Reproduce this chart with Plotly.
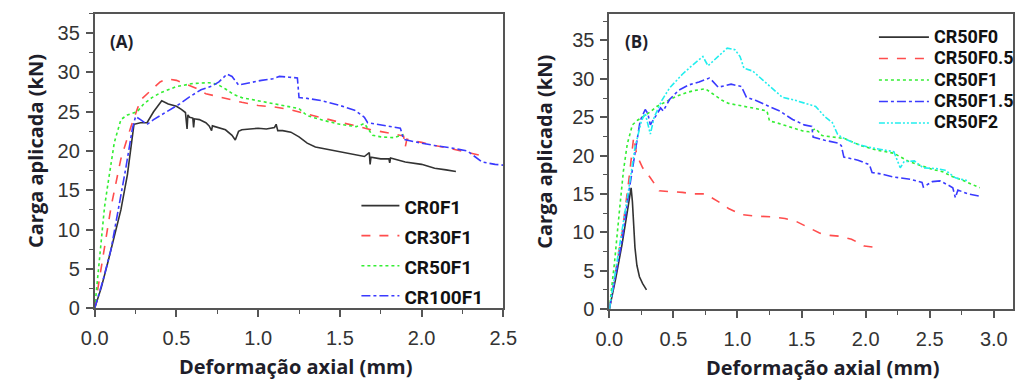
import plotly.graph_objects as go

# ---------------- Panel A data ----------------
a_cr0f1_x = [0, 0.04, 0.08, 0.12, 0.16, 0.20, 0.24, 0.28, 0.32, 0.36, 0.41, 0.45, 0.50, 0.53, 0.555, 0.565, 0.57, 0.58, 0.60,
             0.605, 0.61, 0.64, 0.68, 0.70, 0.715, 0.72, 0.76, 0.80, 0.84, 0.86, 0.88, 0.90, 0.95, 1.00, 1.05, 1.10, 1.11,
             1.12, 1.15, 1.20, 1.25, 1.30, 1.35, 1.45, 1.55, 1.65, 1.68, 1.685, 1.69, 1.75, 1.80, 1.805, 1.81, 1.90, 2.00,
             2.08, 2.15, 2.21]
a_cr0f1_y = [0, 2.6, 5.8, 9.0, 12.5, 17.0, 23.4, 23.6, 23.6, 25.0, 26.4, 26.0, 25.7, 25.3, 24.9, 22.8, 24.6, 24.3, 24.2,
             23.0, 24.1, 24.0, 23.6, 23.2, 22.6, 23.2, 22.9, 22.7, 22.0, 21.4, 22.5, 22.7, 22.8, 22.9, 22.8, 23.0, 23.4,
             22.6, 22.6, 22.4, 21.8, 21.0, 20.5, 20.1, 19.7, 19.3, 19.8, 18.3, 19.2, 19.0, 19.0, 18.5, 19.1, 18.6, 18.3,
             17.8, 17.6, 17.4]

a_cr30f1_x = [0, 0.05, 0.10, 0.16, 0.22, 0.28, 0.34, 0.40, 0.44, 0.50, 0.56, 0.62, 0.68, 0.74, 0.82, 0.90, 1.00, 1.10,
              1.19, 1.30, 1.40, 1.49, 1.60, 1.69, 1.80, 1.89, 1.90, 1.91, 2.00, 2.08, 2.18, 2.28, 2.35]
a_cr30f1_y = [0, 6.5, 12.9, 19.0, 23.0, 26.5, 27.7, 28.8, 29.2, 29.0, 28.5, 28.0, 27.3, 27.0, 26.6, 26.2, 25.8, 25.6,
              25.3, 24.7, 24.1, 23.7, 23.2, 22.7, 22.3, 21.9, 20.5, 21.5, 21.1, 20.7, 20.3, 19.8, 19.5]

a_cr50f1_x = [0, 0.03, 0.06, 0.08, 0.10, 0.12, 0.16, 0.20, 0.26, 0.30, 0.35, 0.40, 0.50, 0.60, 0.70, 0.75, 0.80, 0.85,
              0.90, 1.00, 1.10, 1.20, 1.25, 1.30, 1.40, 1.50, 1.60, 1.65, 1.70, 1.75, 1.83, 1.89]
a_cr50f1_y = [0, 6.0, 12.9, 15.7, 18.5, 21.1, 24.0, 24.6, 25.0, 26.0, 26.8, 27.4, 28.2, 28.6, 28.7, 28.5, 27.9, 27.2,
              26.8, 26.4, 26.0, 25.6, 25.4, 24.5, 23.9, 23.4, 23.1, 23.5, 22.0, 21.8, 21.7, 22.1]

a_cr100f1_x = [0, 0.05, 0.10, 0.14, 0.19, 0.23, 0.25, 0.28, 0.32, 0.36, 0.40, 0.46, 0.52, 0.58, 0.65, 0.72, 0.76, 0.81,
               0.84, 0.88, 0.95, 1.02, 1.09, 1.13, 1.19, 1.24, 1.25, 1.30, 1.39, 1.50, 1.59, 1.65, 1.67, 1.75, 1.87,
               1.89, 1.95, 2.08, 2.18, 2.28, 2.37, 2.45, 2.50]
a_cr100f1_y = [0, 3.5, 7.5, 12.0, 17.8, 22.8, 24.4, 24.0, 23.4, 24.0, 24.5, 25.2, 26.0, 26.9, 27.8, 28.3, 28.8, 29.8,
               29.5, 28.4, 28.7, 29.0, 29.2, 29.5, 29.4, 29.3, 26.8, 26.7, 26.4, 25.8, 25.2, 24.3, 23.6, 23.3, 22.9,
               21.5, 21.2, 20.7, 20.4, 20.0, 18.6, 18.3, 18.2]

# ---------------- Panel B data ----------------
b_f0_x = [0, 0.05, 0.10, 0.14, 0.17, 0.18, 0.19, 0.20, 0.215, 0.235, 0.26, 0.29]
b_f0_y = [0, 4.0, 8.5, 13.0, 15.8, 14.0, 10.8, 8.0, 5.7, 4.2, 3.3, 2.5]

b_f05_x = [0, 0.05, 0.10, 0.15, 0.19, 0.215, 0.26, 0.32, 0.39, 0.47, 0.57, 0.66, 0.75, 0.85, 0.93, 1.03, 1.15, 1.28,
           1.37, 1.46, 1.53, 1.64, 1.72, 1.79, 1.89, 1.99, 2.09]
b_f05_y = [0, 5.0, 10.0, 16.5, 22.4, 20.0, 18.4, 17.1, 15.4, 15.3, 15.2, 15.0, 15.0, 14.0, 13.1, 12.3, 12.1, 12.0,
           11.8, 11.4, 10.8, 9.9, 9.6, 9.5, 9.1, 8.2, 8.0]

b_f1_x = [0, 0.04, 0.08, 0.11, 0.14, 0.18, 0.22, 0.27, 0.32, 0.37, 0.45, 0.52, 0.60, 0.67, 0.75, 0.82, 0.88, 0.93, 1.00,
          1.08, 1.15, 1.23, 1.25, 1.30, 1.38, 1.45, 1.51, 1.56, 1.61, 1.66, 1.75, 1.84, 1.96, 2.09, 2.22, 2.34, 2.43,
          2.52, 2.60, 2.67, 2.74, 2.80, 2.89]
b_f1_y = [0, 6.0, 13.0, 18.0, 21.5, 24.0, 24.6, 25.1, 25.7, 26.4, 27.1, 27.7, 28.2, 28.5, 28.7, 27.9, 27.2, 26.8, 26.6,
          26.4, 26.1, 25.8, 24.5, 24.3, 23.9, 23.6, 23.2, 23.1, 23.5, 22.6, 22.4, 22.2, 21.3, 20.7, 20.3, 19.2, 18.7,
          18.2, 17.9, 17.3, 16.9, 16.5, 15.8]

b_f15_x = [0, 0.05, 0.10, 0.15, 0.20, 0.24, 0.28, 0.30, 0.32, 0.35, 0.40, 0.42, 0.47, 0.54, 0.62, 0.70, 0.78, 0.80,
           0.85, 0.95, 1.03, 1.07, 1.14, 1.22, 1.33, 1.43, 1.52, 1.58, 1.59, 1.68, 1.79, 1.81, 1.83, 1.94, 2.03, 2.05,
           2.12, 2.22, 2.35, 2.44, 2.45, 2.52, 2.58, 2.65, 2.68, 2.70, 2.72, 2.80, 2.89]
b_f15_y = [0, 4.5, 9.0, 15.0, 20.0, 24.5, 26.0, 25.5, 24.0, 24.9, 26.2, 25.8, 27.3, 28.5, 29.2, 29.6, 30.1, 29.8,
           28.9, 29.3, 29.0, 27.6, 27.2, 26.6, 25.8, 24.7, 24.0, 23.8, 22.4, 22.0, 21.6, 21.3, 19.8, 19.4, 18.8, 17.8,
           17.6, 17.2, 16.9, 16.5, 15.9, 16.6, 16.7, 16.1, 15.8, 14.5, 15.5, 15.0, 14.7]

b_f2_x = [0, 0.05, 0.10, 0.15, 0.20, 0.25, 0.28, 0.30, 0.32, 0.35, 0.41, 0.47, 0.57, 0.65, 0.73, 0.77, 0.82, 0.92,
          0.98, 1.02, 1.05, 1.12, 1.20, 1.27, 1.35, 1.45, 1.54, 1.61, 1.68, 1.74, 1.78, 1.81, 1.93, 2.02, 2.12, 2.22,
          2.27, 2.30, 2.38, 2.45, 2.55, 2.62, 2.70, 2.80]
b_f2_y = [0, 5.0, 10.0, 15.5, 21.0, 24.5, 25.5, 24.0, 22.8, 25.0, 27.2, 28.8, 30.6, 31.8, 32.9, 31.7, 32.5, 34.0,
          33.8, 32.9, 31.4, 31.0, 29.8, 28.8, 27.6, 27.2, 26.8, 26.4, 25.1, 24.3, 22.8, 22.4, 21.5, 21.1, 20.8, 20.5,
          18.4, 19.2, 19.3, 18.4, 18.3, 18.1, 17.1, 16.7]

names_a = ["CR0F1", "CR30F1", "CR50F1", "CR100F1"]
names_b = ["CR50F0", "CR50F0.5", "CR50F1", "CR50F1.5", "CR50F2"]
x_title = "Deformação axial (mm)"
y_title = "Carga aplicada (kN)"

# ---------------- styling ----------------
W, H = 1028, 389
BLACK = "#333333"
RED = "#ff4d4d"
GREEN = "#33ee33"
BLUE = "#3a3aff"
CYAN = "#22eeee"
LW = 1.6
DASHDOTDOT = "6px,2px,2px,2px,2px,2px"

fig = go.Figure()

series_a = [(a_cr0f1_x, a_cr0f1_y, BLACK, "solid"),
            (a_cr30f1_x, a_cr30f1_y, RED, "dash"),
            (a_cr50f1_x, a_cr50f1_y, GREEN, "dot"),
            (a_cr100f1_x, a_cr100f1_y, BLUE, "dashdot")]
for (xs, ys, c, d), n in zip(series_a, names_a):
    fig.add_trace(go.Scatter(x=xs, y=ys, mode="lines", name='<b><span style="font-size:19px">%s</span></b>' % n,
                             line=dict(color=c, width=LW, dash=d), xaxis="x", yaxis="y", legend="legend"))

series_b = [(b_f0_x, b_f0_y, BLACK, "solid"),
            (b_f05_x, b_f05_y, RED, "dash"),
            (b_f1_x, b_f1_y, GREEN, "dot"),
            (b_f15_x, b_f15_y, BLUE, "dashdot"),
            (b_f2_x, b_f2_y, CYAN, DASHDOTDOT)]
for (xs, ys, c, d), n in zip(series_b, names_b):
    fig.add_trace(go.Scatter(x=xs, y=ys, mode="lines", name='<b><span style="font-size:18px">%s</span></b>' % n,
                             line=dict(color=c, width=LW, dash=d), xaxis="x2", yaxis="y2", legend="legend2"))

AX = "#555555"
tickfont = dict(family="Liberation Sans, Arial, sans-serif", size=20, color="#333333")


def xaxis(dom, rng, anchor):
    return dict(domain=dom, range=rng, anchor=anchor, tick0=0, dtick=0.5, tickformat=".1f",
                ticks="outside", ticklen=7, tickwidth=1.5, tickcolor=AX,
                minor=dict(ticks="outside", ticklen=4, tickwidth=1.2, tickcolor=AX, dtick=0.25, showgrid=False),
                showline=True, linecolor=AX, linewidth=1.8, mirror=True,
                showgrid=False, zeroline=False, tickfont=tickfont, ticklabelstandoff=4)


def yaxis(dom, rng, anchor):
    return dict(domain=dom, range=rng, anchor=anchor, tick0=0, dtick=5,
                ticks="outside", ticklen=7, tickwidth=1.5, tickcolor=AX,
                minor=dict(ticks="outside", ticklen=4, tickwidth=1.2, tickcolor=AX, dtick=2.5, showgrid=False),
                showline=True, linecolor=AX, linewidth=1.8, mirror=True,
                showgrid=False, zeroline=False, tickfont=tickfont, ticklabelstandoff=2)


legend_font_family = "Roboto, sans-serif"
fig.update_layout(
    width=W, height=H,
    margin=dict(l=0, r=0, t=0, b=0),
    paper_bgcolor="white", plot_bgcolor="white",
    xaxis=xaxis([83 / W, 503 / W], [0, 2.5], "y"),
    yaxis=yaxis([(H - 317) / H, (H - 14) / H], [0, 37.5], "x"),
    xaxis2=xaxis([612 / W, 1027 / W], [0, 3.15], "y2"),
    yaxis2=yaxis([(H - 318) / H, (H - 14) / H], [0, 38.5], "x2"),
    legend=dict(x=352 / W, y=(H - 191) / H, xanchor="left", yanchor="top", bgcolor="rgba(0,0,0,0)",
                font=dict(family=legend_font_family, size=20.8, color="#111111"),
                itemwidth=38, borderwidth=0, tracegroupgap=0),
    legend2=dict(x=884 / W, y=(H - 22) / H, xanchor="left", yanchor="top", bgcolor="rgba(0,0,0,0)",
                 font=dict(family=legend_font_family, size=14.2, color="#111111"),
                 itemwidth=50, borderwidth=0, tracegroupgap=0),
    showlegend=True,
)

title_font = dict(family="Open Sans, sans-serif", size=20, color="#1e1e2a")
ann = [
    dict(text="<b>%s</b>" % x_title, x=289 / W, y=(H - 377) / H),
    dict(text="<b>%s</b>" % x_title, x=831 / W, y=(H - 378) / H),
    dict(text="<b>%s</b>" % y_title, x=22 / W, y=(H - 155) / H, textangle=-90),
    dict(text="<b>%s</b>" % y_title, x=545 / W, y=(H - 156) / H, textangle=-90),
]
for a in ann:
    fig.add_annotation(xref="paper", yref="paper", xanchor="center", yanchor="middle",
                       showarrow=False, font=title_font, **a)
for txt, xc in [("(A)", 110), ("(B)", 640)]:
    fig.add_annotation(xref="paper", yref="paper", xanchor="center", yanchor="middle", showarrow=False,
                       text="<b>%s</b>" % txt, x=xc / W, y=(H - 43) / H,
                       font=dict(family="Open Sans, sans-serif", size=17, color="#1e1e2a"))

fig.write_html("out.html")
